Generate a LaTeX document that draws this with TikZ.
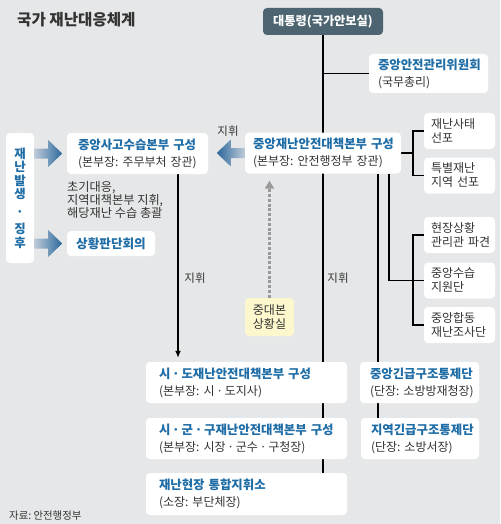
\documentclass[tikz,border=0pt]{standalone}
\usepackage{fontspec}
\setmainfont{Noto Sans CJK KR}
\usepackage{xcolor}
\usetikzlibrary{positioning,arrows.meta,backgrounds}

\definecolor{pagebg}{RGB}{230,231,232}
\definecolor{kblue}{RGB}{31,109,166}
\definecolor{ktext}{RGB}{51,51,51}
\definecolor{presfill}{RGB}{77,101,112}
\definecolor{roomfill}{RGB}{252,247,205}
\definecolor{arrdark}{RGB}{44,104,156}
\definecolor{arrlight}{RGB}{190,203,216}

\frenchspacing
\newcommand\hd[1]{{\color{kblue}\fontsize{12.4}{17}\selectfont\bfseries #1}}
\newcommand\mdot{\hspace{1.8pt}·\hspace{1.8pt}}
% fat shaded arrow: start, forward step, backward step, shading
\newcommand\fatarrow[4]{\shade[#4] (#1) ++(0,5) -- ++(#2,0) -- ++(0,8.5) -- ++(#2,-13.5) -- ++(#3,-13.5) -- ++(0,8.5) -- ++(#3,0) -- cycle;}

\begin{document}
\begin{tikzpicture}[
  x=1pt, y=-1pt, >=Latex,
  font=\fontsize{12}{17}\selectfont, text=ktext,
  unit/.style={fill=white, rounded corners=4pt, align=left, inner ysep=2pt, minimum height=41pt},
  leaf/.style={fill=white, rounded corners=4pt, align=left, minimum height=36pt, text width=57pt, inner xsep=7pt, font=\fontsize{12}{14}\selectfont},
  tag/.style={font=\fontsize{11.5}{13}\selectfont, inner sep=1pt},
  wire/.style={line width=1.6pt, black},
  dotarrow/.style={line width=2.8pt, black!40, dash pattern=on 3pt off 1.8pt, -{Triangle[width=9pt,length=8pt]}},
  fatR/.style={left color=arrlight, right color=arrdark},
  fatL/.style={left color=arrdark, right color=arrlight},
]
\node[tag, anchor=west, font=\fontsize{15.6}{17}\selectfont\bfseries] (title) at (16,20) {국가 재난대응체계};
\node[fill=presfill, text=white, rounded corners=4pt, minimum width=120pt, minimum height=27pt, font=\fontsize{12.2}{14}\selectfont\bfseries] (pres) at (323,21.5) {대통령(국가안보실)};
\node[unit, text width=101pt, inner xsep=9pt, minimum height=39pt] (ccom) at (428.5,73.5) {\hd{중앙안전관리위원회}\\(국무총리)};
\node[unit, text width=140pt, inner xsep=8pt] (cdsc) at (323,153) {\hd{중앙재난안전대책본부~구성}\\(본부장:~안전행정부~장관)};
\node[unit, text width=119pt, inner xsep=11pt] (cdh) at (137.5,153.5) {\hd{중앙사고수습본부~구성}\\(본부장:~주무부처~장관)};
% right hand column
\node[leaf] (emg) at (459.5,131) {재난사태\\선포};
\node[leaf] (spd) at (459.5,175.5) {특별재난\\지역~선포};
\node[leaf] (onsite) at (459.5,235) {현장상황\\관리관~파견};
\node[leaf] (csup) at (459.5,280.5) {중앙수습\\지원단};
\node[leaf] (cjoint) at (459.5,325) {중앙합동\\재난조사단};
% local headquarters
\node[unit, text width=175pt, inner xsep=13pt] (sido) at (246.5,382.5) {\hd{시\mdot 도재난안전대책본부~구성}\\(본부장:~시\mdot 도지사)};
\node[unit, text width=175pt, inner xsep=13pt] (sgg) at (246.5,438.5) {\hd{시\mdot 군\mdot 구재난안전대책본부~구성}\\(본부장:~시장\mdot 군수\mdot 구청장)};
\node[unit, text width=175pt, inner xsep=13pt, minimum height=42pt] (site) at (246.5,494) {\hd{재난현장~통합지휘소}\\(소장:~부단체장)};
\node[unit, text width=99pt, inner xsep=10pt] (cerc) at (419.5,382.5) {\hd{중앙긴급구조통제단}\\(단장:~소방방재청장)};
\node[unit, text width=98pt, inner xsep=10pt] (rerc) at (420,438.5) {\hd{지역긴급구조통제단}\\(단장:~소방서장)};
% left side
\node[fill=white, rounded corners=4pt, minimum width=28pt, minimum height=130pt, align=center, text=kblue, font=\fontsize{12.4}{13.5}\selectfont\bfseries] (trig) at (20,198) {재\\난\\발\\생\\[4pt]·\\[4pt]징\\후};
\node[fill=white, rounded corners=4pt, minimum width=88pt, minimum height=25pt, text=kblue, font=\fontsize{12.6}{14}\selectfont\bfseries] (sit) at (111,243.5) {상황판단회의};
\node[tag, anchor=west, align=left, font=\fontsize{12.2}{13}\selectfont] (note) at (66,200) {초기대응,\\지역대책본부~지휘,\\해당재난~수습~총괄};
\node[fill=roomfill, rounded corners=4pt, minimum width=49pt, minimum height=38pt, align=center, font=\fontsize{12}{14}\selectfont] (room) at (269.5,317) {중대본\\상황실};
\node[tag] (cmd1) at (228,131) {지휘};
\node[tag] (cmd2) at (195,278) {지휘};
\node[tag] (cmd3) at (338,278) {지휘};
\node[tag, anchor=west, font=\fontsize{10.4}{12}\selectfont] (src) at (8,516) {자료: 안전행정부};

\fatarrow{trig.east |- cdh.west}{14}{-14}{fatR}
\fatarrow{trig.east |- sit.west}{14}{-14}{fatR}
\fatarrow{cdsc.west}{-14}{14}{fatL}

\begin{scope}[on background layer]
\fill[pagebg] (0,0) rectangle (500,524);
\draw[wire] (pres.south) -- (pres.south |- site.north);
\draw[wire] (pres.south |- ccom.west) -- (ccom.west);
\coordinate (br1) at (413,153);
\draw[wire] (cdsc.east) -- (br1);
\draw[wire] (emg.west) -| (br1) |- (spd.west);
\coordinate (drop1) at ([xshift=66pt]cdsc.south);
\draw[wire] (drop1) |- (csup.west);
\coordinate (br2) at (413,280.5);
\draw[wire] (onsite.west) -| (br2) |- (cjoint.west);
\coordinate (drop2) at ([xshift=55pt]cdsc.south);
\draw[wire] (drop2) -- (drop2 |- rerc.north);
\coordinate (drop3) at ([xshift=40.5pt]cdh.south);
\draw[wire, -{Latex[length=7pt,width=6pt]}, shorten >=4pt] (drop3) -- (drop3 |- sido.north);
\draw[dotarrow, shorten >=7pt] (room.north) -- (room.north |- cdsc.south);
\end{scope}
\end{tikzpicture}
\end{document}
